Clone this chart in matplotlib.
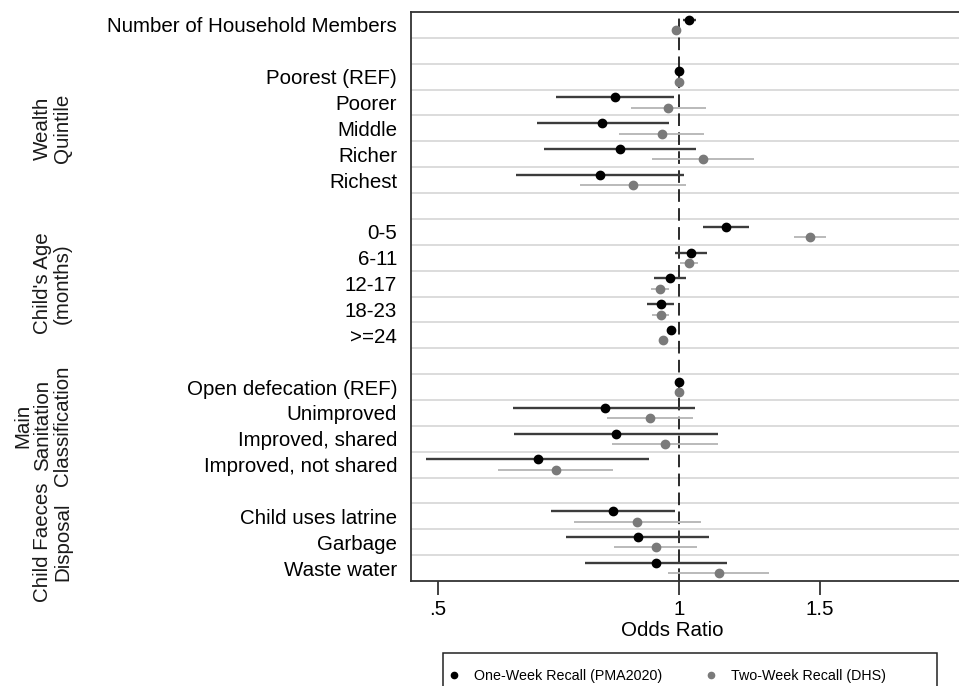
import numpy as np
import matplotlib
matplotlib.use("Agg")
import matplotlib.pyplot as plt
from matplotlib.lines import Line2D
from matplotlib.patches import Rectangle
from matplotlib.transforms import blended_transform_factory

plt.rcParams['font.family'] = ['Liberation Sans', 'DejaVu Sans']

nan = np.nan

# one row per line of the plot, blank rows separate the groups
labels = ["Number of Household Members", "",
          "Poorest (REF)", "Poorer", "Middle", "Richer", "Richest", "",
          "0-5", "6-11", "12-17", "18-23", ">=24", "",
          "Open defecation (REF)", "Unimproved", "Improved, shared", "Improved, not shared", "",
          "Child uses latrine", "Garbage", "Waste water"]

# one-week recall (PMA2020)
pma_or = [1.030, nan, 1.0, 0.833, 0.802, 0.845, 0.796, nan, 1.144, 1.034, 0.974, 0.949, 0.976, nan,
          1.0, 0.808, 0.834, 0.666, nan, 0.826, 0.888, 0.935]
pma_lo = [1.012, nan, 1.0, 0.703, 0.664, 0.679, 0.625, nan, 1.072, 0.988, 0.931, 0.911, 0.970, nan,
          1.0, 0.621, 0.623, 0.483, nan, 0.693, 0.722, 0.764]
pma_hi = [1.050, nan, 1.0, 0.986, 0.972, 1.050, 1.015, nan, 1.223, 1.083, 1.019, 0.986, 0.982, nan,
          1.0, 1.048, 1.120, 0.918, nan, 0.988, 1.091, 1.147]

# two-week recall (DHS)
dhs_or = [0.991, nan, 1.0, 0.969, 0.951, 1.072, 0.876, nan, 1.458, 1.029, 0.947, 0.949, 0.956, nan,
          1.0, 0.920, 0.961, 0.702, nan, 0.887, 0.935, 1.121]
dhs_lo = [0.985, nan, 1.0, 0.872, 0.841, 0.926, 0.753, nan, 1.394, 1.003, 0.923, 0.926, 0.951, nan,
          1.0, 0.814, 0.825, 0.595, nan, 0.739, 0.830, 0.970]
dhs_hi = [0.997, nan, 1.0, 1.080, 1.075, 1.241, 1.019, nan, 1.525, 1.055, 0.971, 0.971, 0.961, nan,
          1.0, 1.042, 1.120, 0.827, nan, 1.065, 1.052, 1.297]

group_names = ["Wealth\nQuintile", "Child's Age\n(months)",
               "Main\nSanitation\nClassification", "Child Faeces\nDisposal"]
group_rows = [(3, 7), (9, 13), (15, 18), (20, 22)]

xticks = [0.5, 1, 1.5]
xticklabels = [".5", "1", "1.5"]

W, H = 959, 686
fig = plt.figure(figsize=(W / 100, H / 100), dpi=100)
ax = fig.add_axes([411 / W, 105 / H, (962 - 411) / W, (581 - 12) / H])

rows = np.arange(1, len(labels) + 1)
off = 0.2

# row separators
for y in np.arange(1.5, len(labels), 1):
    ax.axhline(y, color='#dcdcdc', lw=1.4, zorder=0.5)

ax.axvline(1, color='#1a1a1a', lw=1.3, ls=(0, (7, 3.5)), zorder=1)

ax.hlines(rows - off, pma_lo, pma_hi, color='#3c3c3c', lw=1.7, zorder=2)
ax.plot(pma_or, rows - off, 'o', color='black', ms=6, zorder=3)
ax.hlines(rows + off, dhs_lo, dhs_hi, color='#b4b4b4', lw=1.3, zorder=2)
ax.plot(dhs_or, rows + off, 'o', color='#7a7a7a', ms=6, zorder=3)

ax.set_xscale('log')
ax.set_xlim(0.4627, 2.2567)
ax.set_ylim(len(labels) + 0.5, 0.5)
ax.set_xticks(xticks)
ax.set_xticklabels(xticklabels)
ax.xaxis.set_minor_locator(matplotlib.ticker.NullLocator())
ax.tick_params(axis='x', length=10, width=1.3, color='#333333', pad=4, labelsize=14.8)
ax.set_yticks(rows)
ax.set_yticklabels(labels)
ax.tick_params(axis='y', length=0, pad=10, labelsize=14.8)

for s in ['left', 'top', 'bottom']:
    ax.spines[s].set_color('#333333')
    ax.spines[s].set_linewidth(1.3)
ax.spines['right'].set_visible(False)

# group labels in the left margin
tr = blended_transform_factory(fig.transFigure, ax.transData)
for name, (a, b) in zip(group_names, group_rows):
    ax.text(72 / W, (a + b) / 2, name, transform=tr, rotation=90, rotation_mode='anchor',
            ha='center', va='bottom', fontsize=14.8, linespacing=1.05, color='#1a1a1a')

fig.text(672 / W, 1 - 631 / H, "Odds Ratio", ha='center', va='center', fontsize=14.8)

# legend, its frame runs past the bottom of the picture
fig.patches.append(Rectangle((443 / W, -0.1), (937 - 443) / W, 0.1 + 1 - 653 / H,
                             transform=fig.transFigure, fill=False, edgecolor='#222222', lw=1.1))
handles = [Line2D([], [], ls='none', marker='o', color='black', ms=4.5),
           Line2D([], [], ls='none', marker='o', color='#7a7a7a', ms=4.5)]
fig.legend(handles, ["One-Week Recall (PMA2020)", "Two-Week Recall (DHS)"],
           loc='center left', bbox_to_anchor=(447 / W, 1 - 676 / H), ncol=2, frameon=False,
           fontsize=10.3, handlelength=1.0, handletextpad=0.9, columnspacing=2.9,
           borderpad=0, borderaxespad=0)

fig.savefig("out.png", dpi=100)
